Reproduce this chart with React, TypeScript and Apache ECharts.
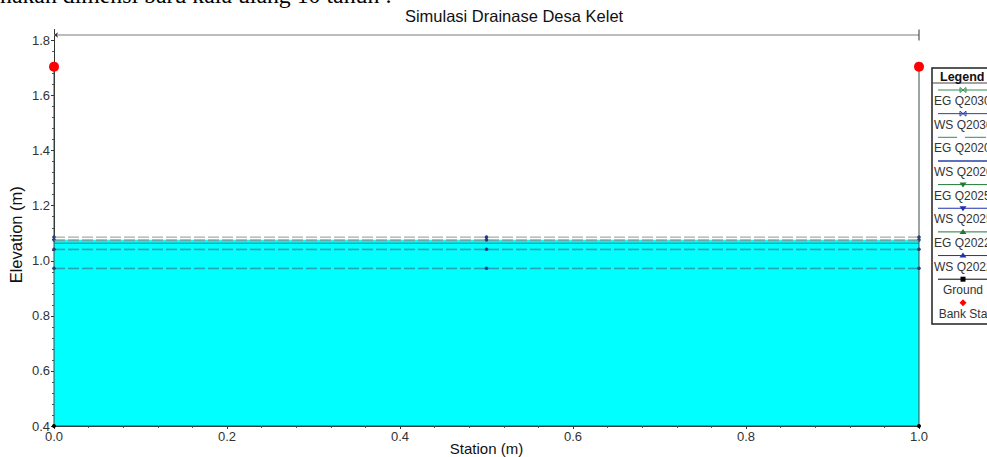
import React, { useEffect, useRef } from "react";
import * as echarts from "echarts";

const stations = [0, 0.5, 1];
const egQ2030 = [1.086, 1.086, 1.086];
const wsQ2030 = [1.076, 1.076, 1.076];
const egQ2020 = [1.073, 1.073, 1.073];
const wsQ2020 = [1.064, 1.064, 1.064];
const egQ2025 = [1.042, 1.042, 1.042];
const wsQ2025 = [1.04, 1.04, 1.04];
const egQ2022 = [0.973, 0.973, 0.973];
const wsQ2022 = [0.971, 0.971, 0.971];
const groundStations = [0, 0, 1, 1];
const groundElev = [1.705, 0.4, 0.4, 1.705];
const bankStations = [0, 1];
const bankElev = [1.705, 1.705];
const dimensionElev = 1.82;
const dimensionLabel = "825";
const xTicks = [0, 0.2, 0.4, 0.6, 0.8, 1];
const yTicks = [0.4, 0.6, 0.8, 1, 1.2, 1.4, 1.6, 1.8];
const legendNames = ["EG Q2030", "WS Q2030", "EG Q2020", "WS Q2020", "EG Q2025", "WS Q2025", "EG Q2022", "WS Q2022", "Ground", "Bank Sta"];
const legendColors = ["#2f8f4f", "#2a3fa8", "#2f8f4f", "#2a3fa8", "#1f7a35", "#1f30b0", "#1f7a35", "#1f30b0", "#000000", "#ff0000"];
const legendMarks = ["x", "x", "", "", "down", "down", "up", "up", "square", "diamond"];
const pageText = "nakan dimensi baru kala ulang 10 tahun :";
const titleText = "Simulasi Drainase Desa Kelet";

const FONT = '"Liberation Sans", Arial, sans-serif';

function levelSeries(name: string, vals: number[], color: string, dashed: boolean, symbol: string, extra: any = {}) {
  return {
    name,
    type: "line",
    clip: false,
    silent: true,
    data: stations.map((s, i) => [s, vals[i]]),
    symbol,
    symbolSize: 3.5,
    itemStyle: { color: "#1d3a8f" },
    lineStyle: { color, width: 1, type: dashed ? [11, 3] : "solid" },
    ...extra,
  };
}

function legendGraphic(): any[] {
  const x0 = 932;
  const y0 = 68;
  const els: any[] = [
    { type: "rect", shape: { x: x0, y: y0, width: 70, height: 256 }, style: { fill: "#fff", stroke: "#222", lineWidth: 1.5 }, z: 20 },
    { type: "line", shape: { x1: x0, y1: y0 + 15, x2: 990, y2: y0 + 15 }, style: { stroke: "#444", lineWidth: 1 }, z: 21 },
    { type: "text", x: 940, y: 70, style: { text: "Legend", font: `bold 12.5px ${FONT}`, fill: "#111" }, z: 21 },
  ];
  legendNames.forEach((n, i) => {
    const ly = 90 + i * 23.65;
    const c = legendColors[i];
    const cx = 963;
    if (i < 9) {
      if (i === 2) {
        els.push({ type: "line", shape: { x1: 938, y1: ly, x2: 957, y2: ly }, style: { stroke: c, lineWidth: 1 }, z: 21 });
        els.push({ type: "line", shape: { x1: 965, y1: ly, x2: 986, y2: ly }, style: { stroke: c, lineWidth: 1 }, z: 21 });
      } else {
        els.push({ type: "line", shape: { x1: 938, y1: ly, x2: 987, y2: ly }, style: { stroke: c, lineWidth: i === 3 ? 1.4 : 1 }, z: 21 });
      }
    }
    const m = legendMarks[i];
    if (m === "x") {
      els.push({ type: "polygon", shape: { points: [[cx - 3, ly - 2.5], [cx + 3, ly + 2.5], [cx + 3, ly - 2.5], [cx - 3, ly + 2.5]] }, style: { fill: "none", stroke: c, lineWidth: 1 }, z: 22 });
    } else if (m === "down") {
      els.push({ type: "polygon", shape: { points: [[cx - 3.5, ly - 2], [cx + 3.5, ly - 2], [cx, ly + 3]] }, style: { fill: c }, z: 22 });
    } else if (m === "up") {
      els.push({ type: "polygon", shape: { points: [[cx - 3.5, ly + 2], [cx + 3.5, ly + 2], [cx, ly - 3]] }, style: { fill: c }, z: 22 });
    } else if (m === "square") {
      els.push({ type: "rect", shape: { x: cx - 2.5, y: ly - 2.5, width: 5, height: 5 }, style: { fill: c }, z: 22 });
    } else if (m === "diamond") {
      els.push({ type: "polygon", shape: { points: [[cx, ly - 3.5], [cx + 3.5, ly], [cx, ly + 3.5], [cx - 3.5, ly]] }, style: { fill: c }, z: 22 });
    }
    els.push({
      type: "text",
      x: i < 8 ? 934 : cx,
      y: ly + 5,
      style: { text: n, font: `12px ${FONT}`, fill: "#333", textAlign: i < 8 ? "left" : "center" },
      z: 21,
    });
  });
  return els;
}

export default function App() {
  const ref = useRef<HTMLDivElement>(null);
  useEffect(() => {
    document.body.style.margin = "0";
    document.body.style.overflow = "hidden";
    const chart = echarts.init(ref.current!, undefined, { renderer: "svg" });
    chart.setOption({
      animation: false,
      backgroundColor: "#ffffff",
      textStyle: { fontFamily: FONT },
      title: {
        text: titleText,
        left: 514,
        top: 7,
        textAlign: "center",
        padding: 0,
        textStyle: { fontFamily: FONT, fontSize: 16.5, fontWeight: "normal", color: "#111" },
      },
      grid: { left: 54, right: 68, top: 29.5, bottom: 31, outerBoundsMode: "none" },
      xAxis: {
        type: "value",
        min: 0,
        max: 1,
        interval: 0.2,
        name: "Station (m)",
        nameLocation: "middle",
        nameGap: 15,
        nameMoveOverlap: false,
        nameTextStyle: { fontFamily: FONT, fontSize: 15, color: "#111" },
        axisLine: { onZero: false, lineStyle: { color: "#333", width: 1 } },
        axisTick: { length: 3, lineStyle: { color: "#333" } },
        minorTick: { show: true, splitNumber: 5, length: 2, lineStyle: { color: "#555" } },
        splitLine: { show: false },
        axisLabel: { fontFamily: FONT, fontSize: 13, color: "#333", margin: 4, customValues: xTicks, formatter: (v: number) => v.toFixed(1) },
      },
      yAxis: {
        type: "value",
        min: 0.4,
        max: 1.84,
        interval: 0.2,
        name: "Elevation (m)",
        nameLocation: "middle",
        nameGap: 30,
        nameMoveOverlap: false,
        nameTextStyle: { fontFamily: FONT, fontSize: 16.5, color: "#111", padding: [0, 14, 0, 0] },
        axisLine: { onZero: false, lineStyle: { color: "#333", width: 1 } },
        axisTick: { length: 3, lineStyle: { color: "#333" }, customValues: yTicks },
        minorTick: { show: true, splitNumber: 5, length: 2, lineStyle: { color: "#555" } },
        splitLine: { show: false },
        axisLabel: { fontFamily: FONT, fontSize: 13, color: "#333", margin: 4, customValues: yTicks, formatter: (v: number) => v.toFixed(1) },
      },
      series: [
        levelSeries("WS Q2030", wsQ2030, "#8f9f9f", true, "circle", { areaStyle: { color: "#00ffff", opacity: 1, origin: "start" }, z: 2 }),
        levelSeries("EG Q2030", egQ2030, "#8a9a8f", true, "circle", { z: 3 }),
        levelSeries("EG Q2020", egQ2020, "#6f9f9f", true, "none", { z: 3 }),
        levelSeries("WS Q2020", wsQ2020, "#2b7f96", false, "none", { z: 3 }),
        levelSeries("EG Q2025", egQ2025, "#2a8f98", true, "circle", { z: 3 }),
        levelSeries("WS Q2025", wsQ2025, "#2f9fb0", true, "none", { z: 3 }),
        levelSeries("EG Q2022", egQ2022, "#2a8f98", true, "circle", { z: 3 }),
        levelSeries("WS Q2022", wsQ2022, "#2f9fb0", true, "none", { z: 3 }),
        {
          name: "Ground",
          type: "line",
          clip: false,
          silent: true,
          data: groundStations.map((s, i) => [s, groundElev[i]]),
          symbol: "circle",
          symbolSize: (_: any, p: any) => (groundElev[p.dataIndex] === 0.4 ? 4 : 0),
          itemStyle: { color: "#000" },
          lineStyle: { color: "#3a4a4a", width: 1 },
          z: 4,
        },
        {
          name: "Bank Sta",
          type: "scatter",
          clip: false,
          silent: true,
          data: bankStations.map((s, i) => [s, bankElev[i]]),
          symbol: "circle",
          symbolSize: 10,
          itemStyle: { color: "#ff0000", opacity: 1 },
          z: 5,
        },
        {
          name: "Dimension",
          type: "line",
          clip: false,
          silent: true,
          symbol: "none",
          lineStyle: { color: "#a8a8a8", width: 1.4 },
          data: [
            { value: [0, dimensionElev], symbol: "arrow", symbolRotate: 90, symbolSize: 4, itemStyle: { color: "#333" } },
            {
              value: [0.5, dimensionElev],
              label: {
                show: true,
                position: "inside",
                formatter: dimensionLabel,
                fontSize: 5,
                color: "#555",
                backgroundColor: "#fff",
                padding: [0, 4],
              },
            },
            { value: [1, dimensionElev], symbol: "rect", symbolSize: [1, 11], itemStyle: { color: "#333" } },
          ],
          z: 3,
        },
      ],
      graphic: [
        { type: "text", x: 0, y: -17, style: { text: pageText, font: '23.8px "Liberation Serif", serif', fill: "#000" }, z: 30 },
        ...legendGraphic(),
      ],
    });
    return () => chart.dispose();
  }, []);
  return <div ref={ref} style={{ width: 987, height: 457, overflow: "hidden" }} />;
}
